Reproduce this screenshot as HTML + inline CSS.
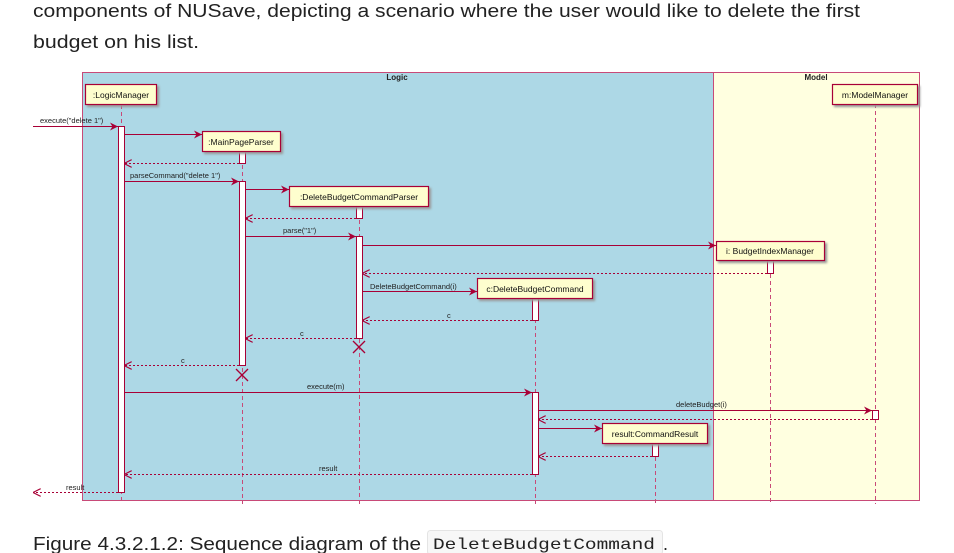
<!DOCTYPE html>
<html><head><meta charset="utf-8"><style>
html,body{margin:0;padding:0;background:#fff;}
svg{display:block;}
</style></head><body>
<svg width="954" height="553" viewBox="0 0 954 553" xmlns="http://www.w3.org/2000/svg" font-family="Liberation Sans, sans-serif">
<defs>
<marker id="a" viewBox="0 0 10 10" refX="10" refY="5" markerWidth="8" markerHeight="8" markerUnits="userSpaceOnUse" orient="auto"><path d="M0,0 L10,5 L0,10 L3,5 Z" fill="#A80036"/></marker>
<marker id="o" viewBox="0 0 10 10" refX="10" refY="5" markerWidth="8" markerHeight="8" markerUnits="userSpaceOnUse" orient="auto"><path d="M0,0 L10,5 L0,10" fill="none" stroke="#A80036" stroke-width="1.5"/></marker>
</defs>
<text x="33" y="17" font-size="18" fill="#222" textLength="827" lengthAdjust="spacingAndGlyphs">components of NUSave, depicting a scenario where the user would like to delete the first</text>
<text x="33" y="48" font-size="18" fill="#222" textLength="166" lengthAdjust="spacingAndGlyphs">budget on his list.</text>

<rect x="82.5" y="72.5" width="631" height="428" fill="#ADD8E6" stroke="#C84A78" stroke-width="1"/>
<rect x="713.5" y="72.5" width="206" height="428" fill="#FFFFE0" stroke="#C84A78" stroke-width="1"/>
<text x="397" y="80" font-size="8" font-weight="bold" text-anchor="middle" fill="#222">Logic</text>
<text x="816" y="80" font-size="8" font-weight="bold" text-anchor="middle" fill="#222">Model</text>

<g stroke="#C84A78" stroke-width="1" stroke-dasharray="4,3" fill="none">
<line x1="121.5" y1="105" x2="121.5" y2="504"/>
<line x1="242.5" y1="151" x2="242.5" y2="504"/>
<line x1="359.5" y1="206" x2="359.5" y2="504"/>
<line x1="535.5" y1="298" x2="535.5" y2="504"/>
<line x1="770.5" y1="260" x2="770.5" y2="504"/>
<line x1="875.5" y1="104" x2="875.5" y2="504"/>
<line x1="655.5" y1="443" x2="655.5" y2="504"/>
</g>

<g fill="#fff" stroke="#A80036" stroke-width="1">
<rect x="118.5" y="126.5" width="6" height="366"/>
<rect x="239.5" y="151.5" width="6" height="12"/>
<rect x="239.5" y="181.5" width="6" height="184"/>
<rect x="356.5" y="206.5" width="6" height="12"/>
<rect x="356.5" y="236.5" width="6" height="102"/>
<rect x="767.5" y="260.5" width="6" height="13"/>
<rect x="532.5" y="298.5" width="6" height="22"/>
<rect x="532.5" y="392.5" width="6" height="82"/>
<rect x="872.5" y="410.5" width="6" height="9"/>
<rect x="652.5" y="443.5" width="6" height="13"/>
</g>

<g fill="#FEFECE" stroke="#A80036" stroke-width="1.2">
<rect x="85.5" y="84.5" width="71" height="20" style="filter:drop-shadow(2px 2px 1px #999)"/>
<rect x="202.5" y="131.5" width="78" height="20" style="filter:drop-shadow(2px 2px 1px #999)"/>
<rect x="289.5" y="186.5" width="139" height="20" style="filter:drop-shadow(2px 2px 1px #999)"/>
<rect x="716.5" y="241.5" width="108" height="19" style="filter:drop-shadow(2px 2px 1px #999)"/>
<rect x="477.5" y="278.5" width="115" height="20" style="filter:drop-shadow(2px 2px 1px #999)"/>
<rect x="832.5" y="84.5" width="85" height="20" style="filter:drop-shadow(2px 2px 1px #999)"/>
<rect x="602.5" y="423.5" width="105" height="20" style="filter:drop-shadow(2px 2px 1px #999)"/>
</g>
<g font-size="8.5" fill="#111" text-anchor="middle">
<text x="121" y="98">:LogicManager</text>
<text x="241" y="145">:MainPageParser</text>
<text x="359" y="200">:DeleteBudgetCommandParser</text>
<text x="770" y="254">i: BudgetIndexManager</text>
<text x="535" y="292">c:DeleteBudgetCommand</text>
<text x="875" y="98">m:ModelManager</text>
<text x="655" y="437">result:CommandResult</text>
</g>

<g stroke="#A80036" stroke-width="1" fill="none">
<line x1="33" y1="126.5" x2="118" y2="126.5" marker-end="url(#a)"/>
<line x1="124" y1="134.5" x2="202" y2="134.5" marker-end="url(#a)"/>
<line x1="124" y1="181.5" x2="239" y2="181.5" marker-end="url(#a)"/>
<line x1="245" y1="189.5" x2="289" y2="189.5" marker-end="url(#a)"/>
<line x1="245" y1="236.5" x2="356" y2="236.5" marker-end="url(#a)"/>
<line x1="362" y1="245.5" x2="716" y2="245.5" marker-end="url(#a)"/>
<line x1="362" y1="291.5" x2="477" y2="291.5" marker-end="url(#a)"/>
<line x1="124" y1="392.5" x2="532" y2="392.5" marker-end="url(#a)"/>
<line x1="538" y1="410.5" x2="872" y2="410.5" marker-end="url(#a)"/>
<line x1="538" y1="428.5" x2="602" y2="428.5" marker-end="url(#a)"/>
</g>
<g stroke="#A80036" stroke-width="1" fill="none" stroke-dasharray="2,2">
<line x1="239" y1="163.5" x2="124" y2="163.5" marker-end="url(#o)"/>
<line x1="356" y1="218.5" x2="245" y2="218.5" marker-end="url(#o)"/>
<line x1="767" y1="273.5" x2="362" y2="273.5" marker-end="url(#o)"/>
<line x1="532" y1="320.5" x2="362" y2="320.5" marker-end="url(#o)"/>
<line x1="356" y1="338.5" x2="245" y2="338.5" marker-end="url(#o)"/>
<line x1="239" y1="365.5" x2="124" y2="365.5" marker-end="url(#o)"/>
<line x1="872" y1="419.5" x2="538" y2="419.5" marker-end="url(#o)"/>
<line x1="652" y1="456.5" x2="538" y2="456.5" marker-end="url(#o)"/>
<line x1="532" y1="474.5" x2="124" y2="474.5" marker-end="url(#o)"/>
<line x1="118" y1="492.5" x2="33" y2="492.5" marker-end="url(#o)"/>
</g>
<g stroke="#A80036" stroke-width="1.3">
<line x1="236" y1="369" x2="248" y2="381"/><line x1="248" y1="369" x2="236" y2="381"/>
<line x1="353" y1="341" x2="365" y2="353"/><line x1="365" y1="341" x2="353" y2="353"/>
</g>
<g font-size="7.5" fill="#222">
<text x="40" y="123">execute("delete 1")</text>
<text x="130" y="178">parseCommand("delete 1")</text>
<text x="283" y="233">parse("1")</text>
<text x="370" y="289">DeleteBudgetCommand(i)</text>
<text x="447" y="318">c</text>
<text x="300" y="336">c</text>
<text x="181" y="363">c</text>
<text x="307" y="389">execute(m)</text>
<text x="676" y="407">deleteBudget(i)</text>
<text x="319" y="471">result</text>
<text x="66" y="490">result</text>
</g>

<text x="33" y="550" font-size="18" fill="#222" textLength="388" lengthAdjust="spacingAndGlyphs">Figure 4.3.2.1.2: Sequence diagram of the</text>
<rect x="427.5" y="530.5" width="235" height="24" rx="3" fill="#f7f7f7" stroke="#e4e4e4"/>
<text x="433" y="549" font-size="16" font-family="Liberation Mono, monospace" fill="#222" textLength="222" lengthAdjust="spacingAndGlyphs">DeleteBudgetCommand</text>
<text x="663" y="550" font-size="18" fill="#222">.</text>
</svg>
</body></html>
